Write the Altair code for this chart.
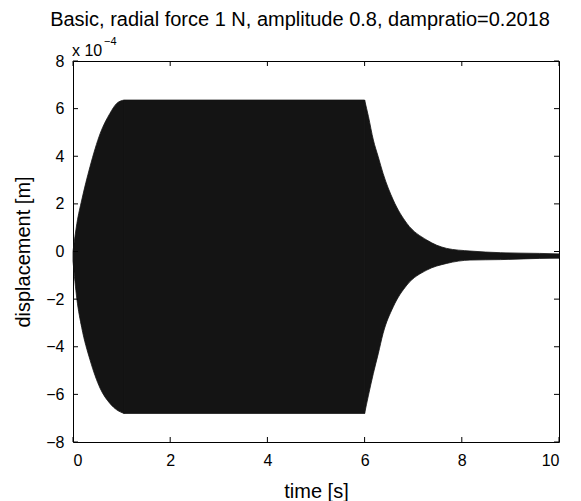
import altair as alt
import pandas as pd

FONT = "Liberation Sans"

# envelope of the displacement signal, in units of 1e-4 m
time_s = [0.0, 0.08, 0.18, 0.35, 0.56, 0.76, 0.90, 1.05, 6.0, 6.08, 6.18, 6.28, 6.38, 6.59, 6.87, 7.28, 7.69, 8.17, 8.8, 9.6, 10.0]
upper = [0.0, 1.18, 2.16, 3.56, 4.96, 5.80, 6.22, 6.36, 6.36, 5.66, 4.68, 3.98, 3.28, 2.16, 1.18, 0.48, 0.13, 0.02, -0.05, -0.08, -0.10]
lower = [-0.4, -2.0, -3.2, -4.55, -5.75, -6.38, -6.65, -6.80, -6.80, -6.03, -5.12, -4.30, -3.44, -2.32, -1.41, -0.78, -0.50, -0.36, -0.34, -0.29, -0.28]

x_ticks = [0, 2, 4, 6, 8, 10]
y_ticks = [-8, -6, -4, -2, 0, 2, 4, 6, 8]

TITLE = "Basic, radial force 1 N, amplitude 0.8, dampratio=0.2018"
X_TITLE = "time [s]"
Y_TITLE = "displacement [m]"

W, H = 486, 381
TL = 5
FILL = "#141414"

env = pd.DataFrame({"t": time_s, "up": upper, "lo": lower})
xt = pd.DataFrame({"t": x_ticks})
yt = pd.DataFrame({"up": y_ticks})

xscale = alt.Scale(domain=[0, 10], nice=False, zero=False)
yscale = alt.Scale(domain=[-8, 8], nice=False, zero=False)

xaxis = alt.Axis(
    values=x_ticks, title=X_TITLE, ticks=False, domain=False, grid=False,
    labelFont=FONT, labelFontSize=16, labelColor="black", labelPadding=10,
    titleFont=FONT, titleFontSize=20, titleFontWeight="normal", titleColor="black",
    titleBaseline="alphabetic", titleY=55, titleX=W / 2)
yaxis = alt.Axis(
    values=y_ticks, title=Y_TITLE, ticks=False, domain=False, grid=False,
    labelFont=FONT, labelFontSize=16, labelColor="black", labelPadding=9,
    titleFont=FONT, titleFontSize=20, titleFontWeight="normal", titleColor="black",
    titleAngle=270, titleBaseline="alphabetic", titleAlign="center",
    titleX=-44, titleY=H / 2)

enc = dict(
    x=alt.X("t:Q", scale=xscale, axis=xaxis),
    y=alt.Y("up:Q", scale=yscale, axis=yaxis),
    y2="lo:Q",
)
area_style = dict(color=FILL, stroke=FILL, strokeWidth=0.8, opacity=1)

base = alt.Chart(env)
rise = base.transform_filter("datum.t <= 1.05").mark_area(
    interpolate="monotone", **area_style).encode(**enc)
plateau = base.transform_filter("datum.t >= 1.05 && datum.t <= 6.0").mark_area(
    interpolate="linear", **area_style).encode(**enc)
decay = base.transform_filter("datum.t >= 6.0").mark_area(
    interpolate="monotone", **area_style).encode(**enc)

tick_style = dict(color="black", strokeWidth=1)
bottom = alt.Chart(xt).mark_rule(**tick_style).encode(
    x=alt.X("t:Q", scale=xscale, axis=xaxis), y=alt.value(H), y2=alt.value(H - TL))
top = alt.Chart(xt).mark_rule(**tick_style).encode(
    x=alt.X("t:Q", scale=xscale, axis=xaxis), y=alt.value(0), y2=alt.value(TL))
left = alt.Chart(yt).mark_rule(**tick_style).encode(
    y=alt.Y("up:Q", scale=yscale, axis=yaxis), x=alt.value(0), x2=alt.value(TL))
right = alt.Chart(yt).mark_rule(**tick_style).encode(
    y=alt.Y("up:Q", scale=yscale, axis=yaxis), x=alt.value(W), x2=alt.value(W - TL))

title = alt.Chart(pd.DataFrame({"s": [TITLE]})).mark_text(
    align="center", baseline="alphabetic", fontSize=20, font=FONT, color="black"
).encode(x=alt.value(227), y=alt.value(-35), text="s:N")

mult = alt.Chart(pd.DataFrame({"s": ["x 10"]})).mark_text(
    align="left", baseline="alphabetic", fontSize=16, font=FONT, color="black"
).encode(x=alt.value(-1), y=alt.value(-5), text="s:N")

expo = alt.Chart(pd.DataFrame({"s": ["\u22124"]})).mark_text(
    align="left", baseline="alphabetic", fontSize=11, font=FONT, color="black"
).encode(x=alt.value(31), y=alt.value(-16), text="s:N")

chart = alt.layer(rise, plateau, decay, bottom, top, left, right, title, mult, expo).properties(
    width=W, height=H,
    autosize=alt.AutoSizeParams(type="none"),
    padding={"left": 73, "top": 61, "right": 22, "bottom": 59},
    background="white",
).configure_view(stroke="black", strokeWidth=1)

chart.save("out.html", embed_options={"renderer": "svg", "actions": False})
